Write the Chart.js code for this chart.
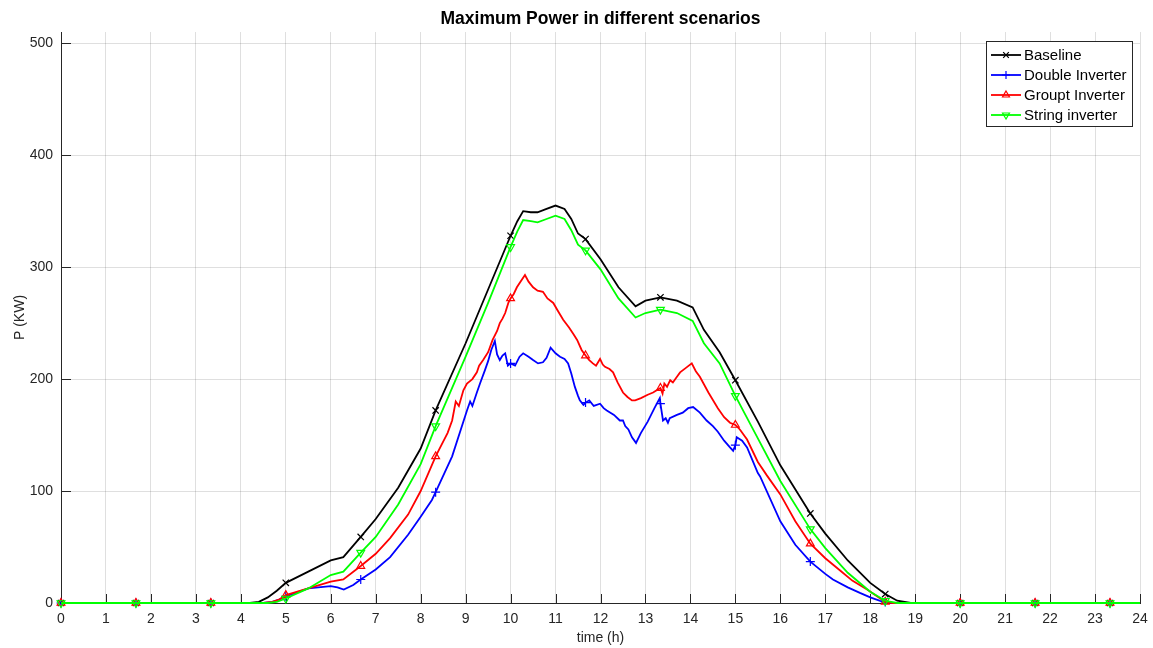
<!DOCTYPE html>
<html lang="en">
<head>
  <meta charset="UTF-8" />
  <title>Maximum Power</title>
  <script src="https://cdn.jsdelivr.net/npm/chart.js"></script>
  <style>
    body { margin: 0; background: #fff; }
    canvas { display: block; }
  </style>
</head>
<body>
  <canvas id="powerChart" width="1153" height="648"></canvas>

  <script>
    // marker positions (every 100 min)
    const markerHours = [0, 1.667, 3.333, 5, 6.667, 8.333, 10, 11.667, 13.333, 15, 16.667, 18.333, 20, 21.667, 23.333];

    // smooth curves: Baseline and String inverter share one time base
    const smoothHours = [0, 1.667, 3.333, 4.2, 4.4, 4.6, 4.8, 5, 5.5, 6, 6.28, 6.667,
      7, 7.5, 8, 8.333, 9, 9.5, 10, 10.15, 10.28, 10.45, 10.6, 10.8,
      11, 11.2, 11.35, 11.5, 11.667, 12, 12.4, 12.78, 13, 13.333, 13.7,
      14.05, 14.3, 14.65, 15, 15.5, 16, 16.667, 17, 17.5, 18, 18.333,
      18.6, 18.9, 20, 21.667, 23.333, 24];
    const baselineP = [0, 0, 0, 0, 1, 5, 11, 18, 28, 38, 41, 59,
      75, 103, 138, 172, 232, 280, 328, 341, 350, 349, 349, 352,
      355, 352, 343, 330, 325, 307, 282, 265, 270, 273, 270,
      264, 244, 224, 199, 162, 123, 80, 62, 38, 18, 8,
      2, 0, 0, 0, 0, 0];
    const stringP = [0, 0, 0, 0, 0, 0, 1, 4, 13, 25, 28, 45,
      59, 88, 124, 158, 220, 268, 318, 332, 342, 341, 340, 343,
      346, 343, 333, 320, 315, 298, 272, 255, 259, 262, 259,
      252, 232, 214, 185, 147, 109, 66, 49, 27, 10, 2,
      0, 0, 0, 0, 0, 0];

    const groupHours = [0, 1.667, 3.333, 4.5, 4.7, 4.85, 5, 5.5, 6, 6.28,
      6.667, 7, 7.32, 7.72, 8, 8.333, 8.6, 8.7, 8.78, 8.85,
      8.95, 9.03, 9.15, 9.25, 9.3, 9.39, 9.5, 9.6, 9.7, 9.76,
      9.82, 9.88, 9.95, 10, 10.07, 10.14, 10.22, 10.32, 10.4, 10.5,
      10.6, 10.72, 10.82, 10.95, 11.05, 11.17, 11.3, 11.4, 11.48, 11.58,
      11.667, 11.75, 11.83, 11.9, 11.99, 12.05, 12.1, 12.2, 12.28, 12.38,
      12.5, 12.6, 12.7, 12.77, 12.9, 13.05, 13.17, 13.25, 13.333, 13.38,
      13.42, 13.48, 13.55, 13.61, 13.7, 13.77, 13.9, 14.03, 14.12, 14.21,
      14.4, 14.61, 14.75, 14.88, 15, 15.1, 15.26, 15.5, 15.7, 16,
      16.333, 16.667, 17, 17.33, 17.6, 17.93, 18.15, 18.333, 18.5, 20,
      21.667, 23.333, 24];
    const groupP = [0, 0, 0, 0, 1, 3, 7, 13, 19, 21,
      33, 44, 58, 79, 100, 131, 152, 163, 180, 176,
      190, 196, 200, 206, 212, 217, 224, 235, 243, 250,
      254, 259, 268, 272, 276, 282, 287, 293, 287, 282,
      279, 278, 272, 268, 261, 253, 246, 240, 235, 226,
      221, 217, 214, 212, 218, 213, 211, 209, 206, 197,
      188, 184, 181, 181, 183, 186, 188, 190, 192, 187,
      196, 193, 199, 197, 202, 206, 210, 214, 207, 202,
      188, 174, 166, 161, 159, 155, 146, 126, 114, 97,
      73, 53, 40, 29, 20, 12, 6, 1, 0, 0,
      0, 0, 0];

    const doubleHours = [0, 1.667, 3.333, 4.5, 4.7, 4.85, 5, 5.5, 6, 6.15,
      6.29, 6.5, 6.667, 7, 7.32, 7.72, 8, 8.25, 8.333, 8.7,
      9.03, 9.1, 9.15, 9.25, 9.32, 9.43, 9.5, 9.57, 9.65, 9.7,
      9.76, 9.82, 9.88, 9.94, 10, 10.1, 10.2, 10.28, 10.4, 10.5,
      10.61, 10.72, 10.8, 10.89, 11, 11.1, 11.2, 11.28, 11.35, 11.43,
      11.5, 11.54, 11.62, 11.667, 11.75, 11.85, 11.99, 12.07, 12.14, 12.3,
      12.43, 12.5, 12.55, 12.62, 12.7, 12.79, 12.9, 13.05, 13.2, 13.32,
      13.333, 13.39, 13.45, 13.5, 13.54, 13.7, 13.83, 13.95, 14.06, 14.21,
      14.36, 14.5, 14.61, 14.75, 14.88, 14.95, 15, 15.03, 15.15, 15.26,
      15.5, 15.55, 16, 16.333, 16.667, 17, 17.17, 17.5, 17.77, 18,
      18.22, 18.333, 18.5, 20, 21.667, 23.333, 24];
    const doubleP = [0, 0, 0, 0, 1, 3, 6, 13, 15, 14,
      12, 16, 21, 30, 41, 61, 77, 92, 99, 131,
      172, 180, 176, 188, 196, 208, 216, 226, 234, 222,
      217, 221, 223, 212, 214, 212, 220, 223, 220, 217,
      214, 215, 219, 228, 223, 220, 218, 214, 205, 193,
      185, 181, 177, 179, 181, 176, 178, 174, 172, 168,
      163, 163, 158, 155, 148, 143, 152, 162, 174, 183,
      178, 163, 165, 161, 165, 168, 170, 174, 175, 170,
      163, 158, 153, 145, 139, 136, 141, 148, 145, 139,
      116, 113, 73, 52, 37, 26, 21, 14, 9, 5,
      2, 1, 0, 0, 0, 0, 0];

    const seriesLabels = ['Baseline', 'Double Inverter', 'Groupt Inverter', 'String inverter'];
    const xTickValues = [0, 1, 2, 3, 4, 5, 6, 7, 8, 9, 10, 11, 12, 13, 14, 15, 16, 17, 18, 19, 20, 21, 22, 23, 24];
    const yTickValues = [0, 100, 200, 300, 400, 500];
    const yMax = 510;
    const titleText = 'Maximum Power in different scenarios';

    const AXIS = '#262626';
    const GRID = 'rgba(38,38,38,0.15)';
    const FONT = "'Liberation Sans', Arial, sans-serif";
    Chart.defaults.font.family = FONT;

    const toXY = (hours, vals) => hours.map((h, i) => ({ x: h, y: vals[i] }));
    const isMarker = x => markerHours.some(m => Math.abs(m - x) < 1e-6);

    function series(label, hours, vals, color, style, rotation, order) {
      return {
        label: label,
        data: toXY(hours, vals),
        borderColor: color,
        backgroundColor: color,
        borderWidth: 1.8,
        pointStyle: style,
        pointRotation: rotation,
        pointRadius: ctx => (ctx.raw && isMarker(ctx.raw.x)) ? 4.5 : 0,
        pointBorderColor: color,
        pointBackgroundColor: 'rgba(0,0,0,0)',
        pointBorderWidth: 1.2,
        pointHoverRadius: 0,
        tension: 0,
        clip: false,
        order: order
      };
    }

    // title centred over the axes, tick marks drawn inward (MATLAB style)
    const axesDecor = {
      id: 'axesDecor',
      beforeDatasetsDraw(chart) {
        const { ctx, chartArea: a, scales: { x, y } } = chart;
        ctx.save();
        ctx.strokeStyle = AXIS;
        ctx.lineWidth = 1;
        ctx.beginPath();
        xTickValues.forEach(v => {
          const px = Math.round(x.getPixelForValue(v)) + 0.5;
          ctx.moveTo(px, a.bottom);
          ctx.lineTo(px, a.bottom - 9);
        });
        yTickValues.forEach(v => {
          const py = Math.round(y.getPixelForValue(v)) + 0.5;
          ctx.moveTo(a.left, py);
          ctx.lineTo(a.left + 10, py);
        });
        ctx.stroke();

        ctx.fillStyle = '#000';
        ctx.font = 'bold 17.5px ' + FONT;
        ctx.textAlign = 'center';
        ctx.textBaseline = 'middle';
        ctx.fillText(titleText, (a.left + a.right) / 2, 19);
        ctx.restore();
      }
    };

    // legend box inside the plot, line + marker per entry
    const boxLegend = {
      id: 'boxLegend',
      afterDatasetsDraw(chart) {
        const ctx = chart.ctx;
        const left = 986, top = 41, w = 146, h = 85;
        ctx.save();
        ctx.fillStyle = '#fff';
        ctx.fillRect(left, top, w, h);
        ctx.strokeStyle = AXIS;
        ctx.lineWidth = 1;
        ctx.strokeRect(left + 0.5, top + 0.5, w, h);
        chart.data.datasets.forEach((ds, i) => {
          const cy = top + 14 + i * 20;
          ctx.strokeStyle = ds.borderColor;
          ctx.lineWidth = 1.8;
          ctx.beginPath();
          ctx.moveTo(991, cy);
          ctx.lineTo(1021, cy);
          ctx.stroke();
          ctx.lineWidth = 1.2;
          ctx.fillStyle = 'rgba(0,0,0,0)';
          Chart.helpers.drawPoint(ctx, {
            pointStyle: ds.pointStyle, radius: 4, rotation: ds.pointRotation, borderWidth: 1.2
          }, 1006, cy);
          ctx.fillStyle = '#000';
          ctx.font = '15px ' + FONT;
          ctx.textBaseline = 'middle';
          ctx.textAlign = 'left';
          ctx.fillText(ds.label, 1024, cy + 1);
        });
        ctx.restore();
      }
    };

    new Chart(document.getElementById('powerChart').getContext('2d'), {
      type: 'line',
      data: {
        datasets: [
          series(seriesLabels[0], smoothHours, baselineP, '#000000', 'crossRot', 0, 4),
          series(seriesLabels[1], doubleHours, doubleP, '#0000ff', 'cross', 0, 3),
          series(seriesLabels[2], groupHours, groupP, '#ff0000', 'triangle', 0, 2),
          series(seriesLabels[3], smoothHours, stringP, '#00ff00', 'triangle', 180, 1)
        ]
      },
      options: {
        responsive: false,
        animation: false,
        events: [],
        layout: { padding: { left: 0, right: 13, top: 32, bottom: 0 } },
        plugins: {
          legend: { display: false },
          tooltip: { enabled: false },
          title: { display: false }
        },
        scales: {
          x: {
            type: 'linear',
            min: 0,
            max: 24,
            afterFit: s => { s.height = 45; s.paddingLeft = 0; s.paddingRight = 0; },
            afterBuildTicks: s => { s.ticks = xTickValues.map(v => ({ value: v })); },
            ticks: { color: AXIS, font: { size: 14 }, padding: 8, maxRotation: 0, autoSkip: false },
            grid: { color: GRID, drawTicks: false },
            border: { display: true, color: AXIS, width: 1 },
            title: { display: true, text: 'time (h)', color: AXIS, font: { size: 14 }, padding: { top: 0, bottom: 1 } }
          },
          y: {
            min: 0,
            max: yMax,
            afterFit: s => { s.width = 61; s.paddingTop = 0; s.paddingBottom = 0; },
            afterBuildTicks: s => { s.ticks = yTickValues.map(v => ({ value: v })); },
            ticks: { color: AXIS, font: { size: 14 }, padding: 8, autoSkip: false },
            grid: { color: GRID, drawTicks: false },
            border: { display: true, color: AXIS, width: 1 },
            title: { display: true, text: 'P (KW)', color: AXIS, font: { size: 14 }, padding: { top: 12, bottom: 0 } }
          }
        }
      },
      plugins: [axesDecor, boxLegend]
    });
  </script>
</body>
</html>
